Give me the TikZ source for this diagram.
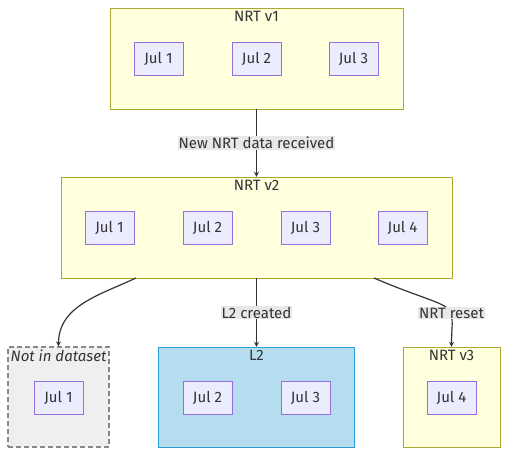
\documentclass[tikz,border=0pt]{standalone}
\usepackage{fontspec}
\setmainfont{Fira Sans}
\usetikzlibrary{arrows.meta}
\definecolor{nrtfill}{HTML}{FFFFDE}
\definecolor{nrtline}{HTML}{AAAA33}
\definecolor{dayfill}{HTML}{ECECFF}
\definecolor{dayline}{HTML}{9370DB}
\definecolor{l2fill}{HTML}{B6DDEF}
\definecolor{l2line}{HTML}{2A9FD6}
\definecolor{gonefill}{HTML}{EFEFEF}
\definecolor{goneline}{HTML}{888888}
\definecolor{lblfill}{HTML}{E8E8E8}
\definecolor{ink}{HTML}{333333}
\begin{document}
\begin{tikzpicture}[
  x=1pt,y=-1pt,
  font=\fontsize{15}{17}\selectfont, text=ink,
  cluster/.style={draw, rectangle, inner sep=0pt},
  nrt/.style={cluster, fill=nrtfill, draw=nrtline},
  title/.style={anchor=north, inner sep=0pt, yshift=-3pt},
  day/.style={draw=dayline, fill=dayfill, minimum width=49pt, minimum height=33pt, inner sep=0pt},
  lbl/.style={fill=lblfill, inner sep=1pt},
  arrow/.style={-{Stealth[length=5pt,width=5pt]}, draw=ink, line width=1.2pt}
]
\useasboundingbox (0,0) rectangle (517,464);

% clusters
\node[nrt, minimum width=293pt, minimum height=101pt] (v1) at (256.5,58.5) {};
\node[title] (v1t) at (v1.north) {NRT v1};
\node[nrt, minimum width=391pt, minimum height=101pt] (v2) at (256.5,227.5) {};
\node[title] (v2t) at (v2.north) {NRT v2};
\node[cluster, fill=gonefill, draw=goneline, line width=1.2pt, dash pattern=on 5pt off 3pt,
      minimum width=101pt, minimum height=100pt] (nd) at (58.5,397) {};
\node[title] (ndt) at (nd.north) {\itshape Not in dataset};
\node[cluster, fill=l2fill, draw=l2line, minimum width=196pt, minimum height=100pt] (l2) at (256.5,397) {};
\node[title] (l2t) at (l2.north) {L2};
\node[nrt, minimum width=97pt, minimum height=100pt] (v3) at (451.5,397) {};
\node[title] (v3t) at (v3.north) {NRT v3};

% days
\node[day] (a1) at (158.5,58.5) {Jul 1};
\node[day] (a2) at (256.5,58.5) {Jul 2};
\node[day] (a3) at (353.5,58.5) {Jul 3};
\node[day] (b1) at (109.5,227.5) {Jul 1};
\node[day] (b2) at (207.5,227.5) {Jul 2};
\node[day] (b3) at (305.5,227.5) {Jul 3};
\node[day] (b4) at (402.5,227.5) {Jul 4};
\node[day] (c1) at (58.5,397.5) {Jul 1};
\node[day] (c2) at (207.5,397.5) {Jul 2};
\node[day] (c3) at (305.5,397.5) {Jul 3};
\node[day] (c4) at (451.5,397.5) {Jul 4};

% edges
\draw[arrow] (v1) -- node[lbl] {New NRT data received} (v2);
\coordinate (v2l) at (136,278);
\coordinate (v2r) at (374,278);
\coordinate (rs) at (451.5,313);
\draw[arrow] (v2l) to[out=-155,in=90] (nd.north);
\draw[arrow] (v2) -- node[lbl, pos=0.5] {L2 created} (l2);
\draw[arrow] (v2r) .. controls (425,300) and (446,302) .. (rs) .. controls (453,325) and (451.5,330) .. (v3.north);
\node[lbl] (rsl) at (rs) {NRT reset};
\end{tikzpicture}
\end{document}
